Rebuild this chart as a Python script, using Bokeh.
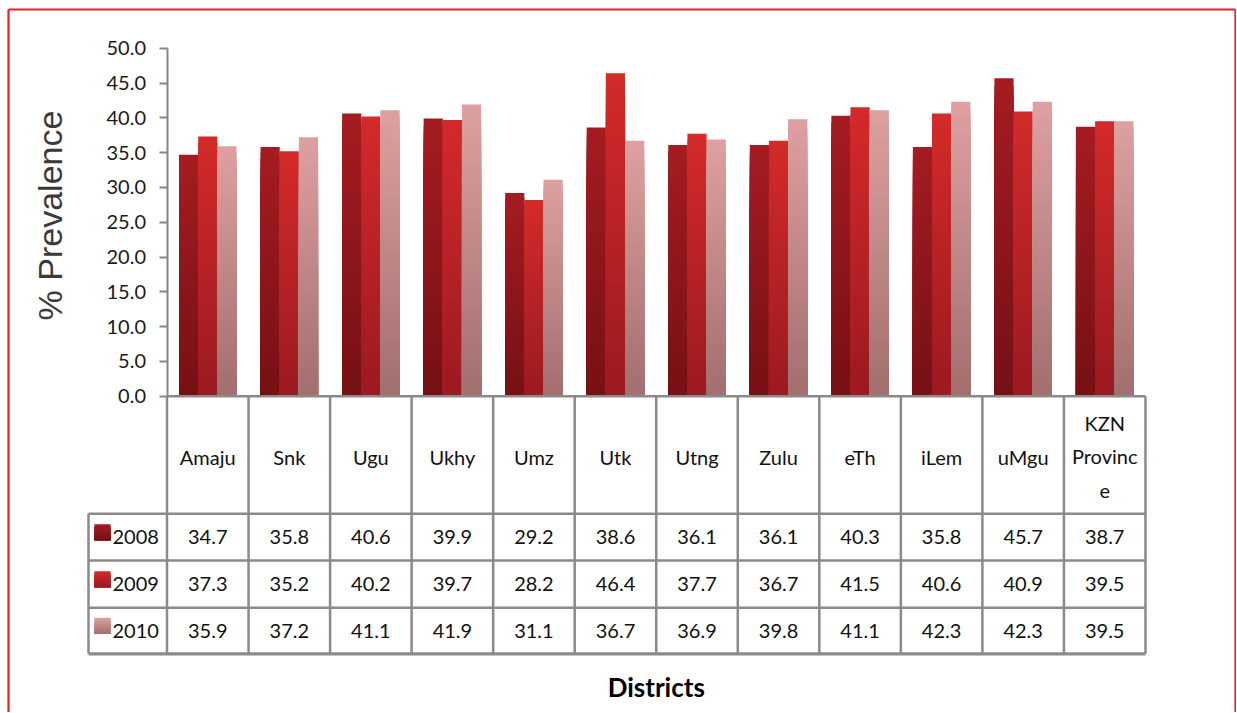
import numpy as np
from bokeh.plotting import figure
from bokeh.models import Range1d, LinearAxis, FixedTicker, NumeralTickFormatter
from bokeh.core.properties import value
from bokeh.embed import file_html
from bokeh.resources import INLINE

# ---------------- data ----------------
districts = ["Amaju", "Snk", "Ugu", "Ukhy", "Umz", "Utk", "Utng", "Zulu",
             "eTh", "iLem", "uMgu", "KZN Province"]
header_labels = ["Amaju", "Snk", "Ugu", "Ukhy", "Umz", "Utk", "Utng", "Zulu",
                 "eTh", "iLem", "uMgu", "KZN\nProvinc\ne"]
years = ["2008", "2009", "2010"]
prev_2008 = [34.7, 35.8, 40.6, 39.9, 29.2, 38.6, 36.1, 36.1, 40.3, 35.8, 45.7, 38.7]
prev_2009 = [37.3, 35.2, 40.2, 39.7, 28.2, 46.4, 37.7, 36.7, 41.5, 40.6, 40.9, 39.5]
prev_2010 = [35.9, 37.2, 41.1, 41.9, 31.1, 36.7, 36.9, 39.8, 41.1, 42.3, 42.3, 39.5]
y_ticks = [0, 5, 10, 15, 20, 25, 30, 35, 40, 45, 50]
y_label = "% Prevalence"
x_label = "Districts"

series = [prev_2008, prev_2009, prev_2010]
# gradient colours (top, bottom) per series
grad = [((165, 28, 34), (118, 16, 20)),
        ((212, 42, 42), (155, 26, 32)),
        ((222, 160, 160), (162, 110, 110))]

# ---------------- layout helpers ----------------
W, H = 1236, 712
PX_U = 81.54          # pixels per category unit
X0 = 166.5            # canvas x of category edge 0
PX_V = 6.96           # pixels per percentage point
Y0 = 395.7            # canvas y of value 0


def ux(px):
    return (px - X0) / PX_U


def vy(py):
    return (Y0 - py) / PX_V


x_start, x_end = -X0 / PX_U, (W - X0) / PX_U
y_end, y_start = Y0 / PX_V, (Y0 - H) / PX_V

p = figure(width=W, height=H, output_backend="svg", toolbar_location=None, tools="",
           x_range=Range1d(x_start, x_end), y_range=Range1d(y_start, y_end),
           x_axis_location=None, y_axis_location=None, min_border=0,
           background_fill_color="white", border_fill_color="white",
           outline_line_color=None)
p.grid.grid_line_color = None


def hexc(c):
    return "#%02x%02x%02x" % tuple(int(round(v)) for v in c)


def grad_bars(xc, width, bottoms, heights, top_c, bot_c, n=40):
    # overlapping rects, tallest first, so no seams appear between slices
    xs, bs, ts, cs = [], [], [], []
    for x, b0, h in zip(xc, bottoms, heights):
        for k in range(n - 1, -1, -1):
            f = (k + 0.5) / n
            col = [bot_c[j] + (top_c[j] - bot_c[j]) * f for j in range(3)]
            xs.append(x)
            bs.append(b0)
            ts.append(b0 + h * (k + 1) / n)
            cs.append(hexc(col))
    p.vbar(x=xs, width=width, bottom=bs, top=ts, fill_color=cs, line_color=None)


# ---------------- bars ----------------
offsets = [-0.235, 0.0, 0.235]
bw = 0.235
centers = np.arange(len(districts)) + 0.5
for s, off, (tc, bc) in zip(series, offsets, grad):
    grad_bars(centers + off, bw, [0] * len(s), s, tc, bc)

# ---------------- y axis ----------------
yaxis = LinearAxis(fixed_location=0, bounds=(0, 50),
                   ticker=FixedTicker(ticks=y_ticks),
                   formatter=NumeralTickFormatter(format="0.0"))
yaxis.axis_line_color = "#868686"
yaxis.axis_line_width = 2
yaxis.major_tick_line_color = "#868686"
yaxis.major_tick_line_width = 2
yaxis.major_tick_out = 8
yaxis.major_tick_in = 0
yaxis.minor_tick_line_color = None
yaxis.major_label_text_font = "Lato"
yaxis.major_label_text_font_size = "20px"
yaxis.major_label_text_color = "#1a1a1a"
yaxis.major_label_standoff = 13
p.add_layout(yaxis, "left")

p.text(x=[ux(49)], y=[vy(215)], text=[y_label], angle=np.pi / 2,
       text_font=value("Liberation Sans"), text_font_size="34px",
       text_color="#3a3a3a", text_align="center", text_baseline="middle")

# ---------------- data table ----------------
gcol = "#8a8a8a"
lw = 2.5
head_bot = vy(513.3)
row_bots = [vy(560), vy(607.3), vy(653.3)]
leg_left = ux(88)
n = len(districts)

# x axis baseline
p.segment(x0=[0], y0=[0], x1=[n], y1=[0], line_color=gcol, line_width=lw)
# vertical lines
p.segment(x0=list(range(n + 1)), y0=[0] * (n + 1), x1=list(range(n + 1)),
          y1=[row_bots[-1]] * (n + 1), line_color=gcol, line_width=lw)
p.segment(x0=[leg_left], y0=[head_bot], x1=[leg_left], y1=[row_bots[-1]],
          line_color=gcol, line_width=lw)
# horizontal lines
hl = [head_bot] + row_bots
p.segment(x0=[leg_left] * 4, y0=hl, x1=[n] * 4, y1=hl, line_color=gcol,
          line_width=[lw, lw, lw, 3.2])

tfont = value("Lato")
# header labels
p.text(x=list(centers), y=[vy(456)] * n, text=header_labels, text_font=tfont,
       text_font_size="20px", text_color="#111111", text_align="center",
       text_baseline="middle", text_line_height=1.38)

row_mid = [(a + b) / 2 for a, b in zip(hl[:-1], hl[1:])]
for s, ym in zip(series, row_mid):
    p.text(x=list(centers), y=[ym] * n, text=["%.1f" % v for v in s],
           text_font=tfont, text_font_size="20px", text_color="#111111",
           text_align="center", text_baseline="middle")

# legend keys + year labels
key_w = 0.196
key_h = 16 / PX_V
for yr, ym, (tc, bc) in zip(years, row_mid, grad):
    kc = ux(102)
    kb = ym + 5 / PX_V - key_h / 2
    grad_bars([kc], key_w, [kb], [key_h], tc, bc, n=10)
    p.text(x=[ux(112)], y=[ym], text=[yr], text_font=tfont, text_font_size="20px",
           text_color="#111111", text_align="left", text_baseline="middle")

# x label
p.text(x=[n / 2], y=[vy(686)], text=[x_label], text_font=tfont,
       text_font_size="26px", text_font_style="bold", text_color="#000000",
       text_align="center", text_baseline="middle")

# red border (top, left, right)
bx0 = ux(8)
bx1 = ux(1235)
by1 = vy(9)
p.segment(x0=[bx0, bx0, bx1], y0=[y_start, by1, by1], x1=[bx0, bx1, bx1],
          y1=[by1, by1, y_start], line_color="#ee1c24", line_width=2.2)

open("out.html", "w").write(file_html(p, INLINE))
